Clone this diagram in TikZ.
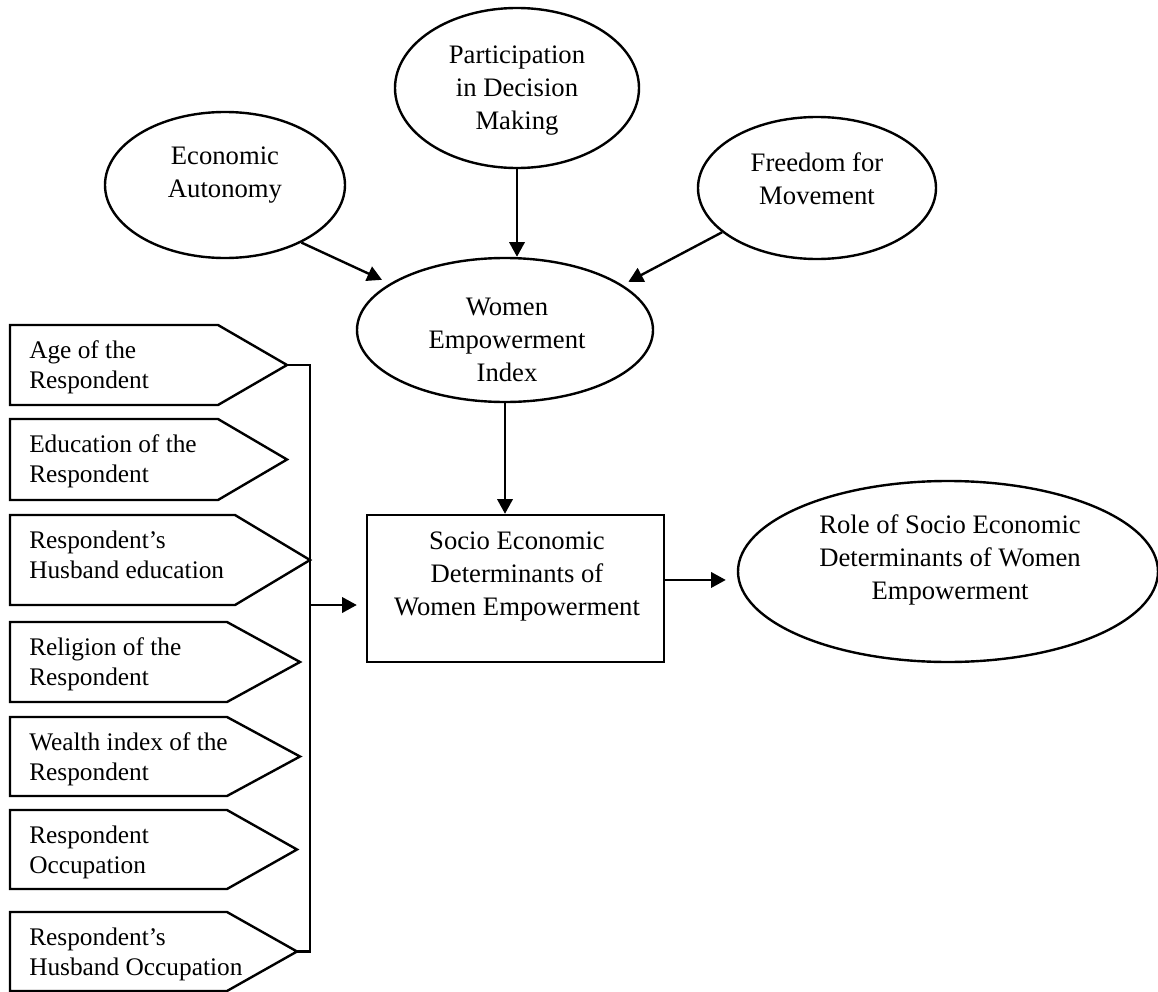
\documentclass[tikz,border=0pt]{standalone}
\usepackage{fontspec}
\setmainfont{Liberation Serif}
\usetikzlibrary{arrows.meta,shapes.geometric,calc}
\def\pxu{0.75pt}
\newcommand\pentbox[6]{%
  \draw[pentline] (10,#2) -- (#4,#2) -- (#5,{(#2+#3)/2}) -- (#4,#3) -- (10,#3) -- cycle;
  \coordinate (#1) at (#5,{(#2+#3)/2});
  \node[plbl] (#1-t) at (29,#2+63) {#6};
}
\begin{document}
\begin{tikzpicture}[x=0.75pt,y=-0.75pt,
  ell/.style={draw, ellipse, inner sep=0, line width=1.8pt},
  arr/.style={-{Triangle[length=11pt,width=11.5pt]}, line width=1.8pt},
  conn/.style={line width=1.8pt},
  lbl/.style={inner sep=0, align=center, anchor=base, font=\fontsize{20}{24.75}\selectfont},
  plbl/.style={inner sep=0, align=left, anchor=base west, font=\fontsize{19}{22.5}\selectfont},
  pentline/.style={line width=1.8pt, line join=miter}
]
\useasboundingbox (0,0) rectangle (1158,992);

% ellipses and box
\node[ell, minimum width=240*\pxu, minimum height=146*\pxu] (econ) at (225,185) {};
\node[ell, minimum width=244*\pxu, minimum height=160*\pxu] (part) at (517,88) {};
\node[ell, minimum width=238*\pxu, minimum height=142*\pxu] (free) at (817,188) {};
\node[ell, minimum width=296*\pxu, minimum height=144*\pxu] (wei) at (505,330) {};
\node[draw, rectangle, line width=1.8pt, inner sep=0, minimum width=297*\pxu, minimum height=147*\pxu] (box) at (515.5,588.5) {};
\node[ell, minimum width=420*\pxu, minimum height=181*\pxu] (role) at (948,571.5) {};

% texts (anchor base = last line's baseline)
\node[lbl] (econ-t) at (225,197) {Economic\\Autonomy};
\node[lbl] (part-t) at (517,129) {Participation\\in Decision\\Making};
\node[lbl] (free-t) at (817,204) {Freedom for\\Movement};
\node[lbl] (wei-t) at (507,381) {Women\\Empowerment\\Index};
\node[lbl] (box-t) at (517,615) {Socio Economic\\Determinants of\\Women Empowerment};
\node[lbl] (role-t) at (950,599) {Role of Socio Economic\\Determinants of Women\\Empowerment};

% pentagons
\pentbox{p1}{325}{405}{218}{287}{Age of the\\Respondent}
\pentbox{p2}{419}{500}{218}{287}{Education of the\\Respondent}
\pentbox{p3}{515}{605}{235}{310}{Respondent’s\\Husband education}
\pentbox{p4}{622}{702}{227}{300}{Religion of the\\Respondent}
\pentbox{p5}{717}{796}{227}{300}{Wealth index of the\\Respondent}
\pentbox{p6}{810}{889}{227}{297}{Respondent\\Occupation}
\pentbox{p7}{912}{991}{227}{297}{Respondent’s\\Husband Occupation}

% bracket and connectors
\coordinate (bx) at (310,605);
\draw[conn] (p1) -- (p1 -| bx) -- (p7 -| bx) -- (p7);
\draw[arr, shorten >=6.75pt] (bx) -- (bx -| box.west);
\draw[arr, shorten >=8.25pt] ([yshift=6.4pt]box.east) -- ([yshift=6.4pt]box.east -| role.west);

\draw[arr, shorten >=6.5pt] (econ.-37) -- (wei.158);
\draw[arr] (part.south) -- (part.south |- wei.north);
\draw[arr, shorten >=5pt] (free.205.6) -- (wei.21);
\draw[arr] (wei.south) -- (wei.south |- box.north);
\end{tikzpicture}
\end{document}
